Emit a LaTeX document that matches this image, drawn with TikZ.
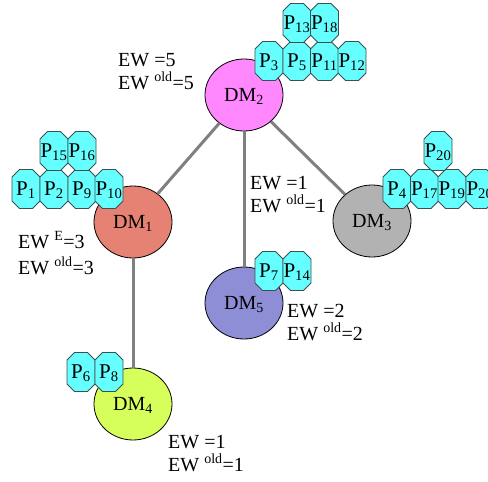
\documentclass[tikz,border=0pt]{standalone}
\usepackage{fontspec}
\setmainfont{Liberation Serif}
\usetikzlibrary{shapes.geometric}
\definecolor{dmsalmon}{RGB}{229,130,115}
\definecolor{dmpink}{RGB}{255,136,255}
\definecolor{dmgray}{RGB}{178,178,178}
\definecolor{dmlime}{RGB}{214,255,92}
\definecolor{dmviolet}{RGB}{142,142,214}
\definecolor{pcyan}{RGB}{102,255,255}
\definecolor{pline}{RGB}{60,80,80}

\begin{document}
\begin{tikzpicture}[x=1pt,y=-1pt,font=\fontsize{20}{23}\selectfont,
  dm/.style={ellipse,draw=black,line width=.8pt,fill=#1,minimum width=78pt,minimum height=72pt,inner sep=0pt,text depth=0pt},
  octo/.style={fill=pcyan,draw=pline,line width=.8pt},
  ptext/.style={inner sep=0pt,text depth=0pt,font=\fontsize{21}{24}\selectfont},
  link/.style={draw=black!50,line width=3pt},
  ew/.style={anchor=base west,align=left,inner sep=0pt}]
\useasboundingbox (0,0) rectangle (488,482);
% domain managers
\node[dm=dmsalmon] (dm1) at (133,222) {DM\textsubscript{1}};
\node[dm=dmpink]   (dm2) at (244,95)  {DM\textsubscript{2}};
\node[dm=dmgray]   (dm3) at (372,221) {DM\textsubscript{3}};
\node[dm=dmlime]   (dm4) at (133,404) {DM\textsubscript{4}};
\node[dm=dmviolet] (dm5) at (244,303) {DM\textsubscript{5}};
\draw[link] (dm2)--(dm1);
\draw[link] (dm2)--(dm5);
\draw[link] (dm2)--(dm3);
\draw[link] (dm1)--(dm4);
% processes held by each manager (28 x 39 octagons)
\foreach \n/\x/\y in {1/26/189,2/54/189,9/82/189,10/109/189,15/54/151,16/82/151,
  3/269/61,5/297/61,11/324.5/61,12/352/61,13/297/23,18/324.5/23,
  4/397/189,17/424.5/189,19/452/189,20/438/151,
  7/269/271,14/297/271,6/81/372,8/109/372}{
  \filldraw[octo] (\x-6.5,\y-19.5)--(\x+6.5,\y-19.5)--(\x+14,\y-12)--(\x+14,\y+12)
    --(\x+6.5,\y+19.5)--(\x-6.5,\y+19.5)--(\x-14,\y+12)--(\x-14,\y-12)--cycle;
  \node[ptext] (p\n) at (\x,\y) {P\textsubscript{\n}};
}
\filldraw[octo] (473.5,169.5)--(486.5,169.5)--(494,177)--(494,201)--(486.5,208.5)
  --(473.5,208.5)--(466,201)--(466,177)--cycle;
\node[ptext] (p20b) at (480,189) {P\textsubscript{20}};
% weights
\node[ew] (w1) at (18,274) {EW \textsuperscript{E}=3\\[3pt]EW \textsuperscript{old}=3};
\node[ew] (w2) at (118,89) {EW =5\\EW \textsuperscript{old}=5};
\node[ew] (w25) at (250,212) {EW =1\\EW \textsuperscript{old}=1};
\node[ew] (w5) at (287,340) {EW =2\\EW \textsuperscript{old}=2};
\node[ew] (w4) at (168,471) {EW =1\\EW \textsuperscript{old}=1};
\end{tikzpicture}
\end{document}
